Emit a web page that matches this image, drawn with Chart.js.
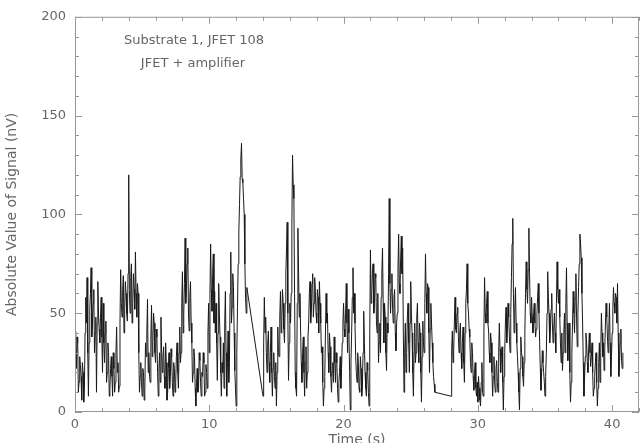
<!DOCTYPE html>
<html>
<head>
<meta charset="utf-8">
<script src="https://cdn.jsdelivr.net/npm/chart.js@4.4.0/dist/chart.umd.min.js"></script>
<style>
    body { margin: 0; background: #fff; }
    canvas { display: block; }
</style>
</head>
<body>
<canvas id="signal" width="644" height="443"></canvas>
<script>
// three acquisition runs, sampled every 0.05 s (values in nV)
const sampleStep = 0.05
const runStarts = [0, 14.0, 28.0]

const run1 = [
    41, 30, 22, 38, 35, 10, 15, 28, 24, 18, 6, 25, 20, 5, 12, 40, 58, 45, 68, 30,
    8, 35, 52, 60, 73, 38, 45, 55, 62, 30, 40, 48, 10, 45, 66, 50, 42, 35, 48, 58,
    38, 20, 55, 35, 25, 40, 46, 15, 20, 35, 30, 8, 12, 22, 28, 18, 8, 30, 22, 10,
    15, 30, 43, 20, 25, 10, 13, 45, 72, 55, 48, 62, 69, 40, 52, 66, 60, 50, 46, 70,
    120, 62, 50, 68, 75, 45, 55, 70, 62, 52, 81, 60, 48, 65, 60, 30, 10, 18, 25, 15,
    8, 22, 20, 6, 12, 35, 28, 40, 57, 20, 30, 18, 15, 38, 54, 28, 35, 50, 45, 30,
    25, 42, 38, 20, 8, 22, 30, 15, 48, 30, 20, 28, 33, 18, 12, 35, 25, 6, 10, 22,
    30, 12, 18, 32, 28, 15, 8, 25, 22, 10, 15, 28, 35, 20, 12, 30, 43, 25, 30, 55,
    71, 40, 50, 65, 88, 55, 62, 75, 83, 50, 41, 58, 66, 45, 35, 15, 20, 32, 28, 12,
    3, 15, 22, 10, 12, 30, 26, 15, 8, 20, 18, 30, 25, 8, 10, 24, 20, 12, 40, 55,
    30, 60, 85, 62, 51, 70, 80, 45, 61, 40, 55, 35, 16, 40, 65, 50, 38, 20, 8, 25,
    20, 35, 12, 45, 61, 30, 8, 25, 41, 15, 25, 60, 81, 45, 53, 70, 63, 40, 21, 12,
    3, 30, 53, 75, 91, 105, 119, 128, 136, 118, 116, 108, 100, 75, 58, 50, 63
]

const run2 = [
    8, 35, 58, 40, 48, 30, 20, 35, 41, 25, 15, 30, 43, 20, 8, 22, 30, 18, 12, 25,
    3, 20, 43, 30, 28, 48, 61, 40, 45, 62, 55, 42, 35, 55, 70, 82, 96, 50, 16, 35,
    55, 45, 60, 95, 130, 115, 108, 60, 20, 12, 8, 55, 93, 70, 48, 60, 41, 25, 15, 30,
    38, 20, 8, 25, 33, 12, 20, 38, 45, 60, 66, 45, 50, 65, 70, 48, 55, 68, 61, 50,
    45, 62, 58, 40, 66, 55, 45, 30, 33, 15, 3, 12, 18, 40, 60, 45, 50, 30, 20, 40,
    33, 18, 10, 20, 25, 15, 38, 25, 15, 30, 25, 12, 5, 15, 20, 28, 12, 22, 35, 45,
    55, 42, 38, 50, 65, 45, 30, 52, 40, 20, 1, 25, 40, 58, 73, 50, 60, 45, 28, 20,
    15, 30, 25, 12, 10, 28, 22, 8, 12, 30, 51, 35, 20, 12, 8, 25, 21, 10, 3, 40,
    82, 55, 60, 72, 75, 50, 55, 70, 68, 45, 40, 60, 25, 35, 45, 30, 58, 70, 83, 55,
    35, 55, 48, 30, 21, 45, 40, 70, 108, 65, 50, 62, 70, 52, 45, 58, 62, 40, 31, 45,
    50, 72, 90, 65, 60, 78, 89, 70, 83, 40, 10, 30, 45, 20, 30, 48, 55, 35, 20, 45,
    66, 50, 40, 20, 8, 30, 45, 25, 30, 48, 55, 35, 25, 45, 40, 20, 5, 28, 46, 35,
    30, 55, 80, 60, 50, 65, 63, 40, 20, 42, 55, 45, 35, 25, 18, 14, 10
]

const run3 = [
    8, 31, 41, 25, 31, 45, 58, 42, 40, 50, 53, 38, 30, 40, 45, 30, 22, 35, 43, 25,
    15, 40, 55, 62, 75, 55, 50, 42, 38, 25, 20, 35, 30, 18, 11, 20, 25, 12, 8, 15,
    5, 18, 12, 6, 3, 15, 25, 10, 8, 40, 68, 50, 45, 55, 61, 45, 41, 30, 25, 40,
    35, 20, 8, 18, 28, 15, 10, 22, 26, 15, 10, 30, 45, 32, 20, 28, 33, 15, 1, 18,
    30, 45, 53, 35, 41, 55, 48, 38, 30, 50, 68, 85, 98, 60, 40, 52, 63, 45, 35, 28,
    20, 10, 1, 22, 38, 30, 28, 18, 13, 25, 40, 60, 76, 62, 55, 72, 93, 70, 50, 45,
    58, 48, 40, 50, 55, 45, 38, 42, 50, 58, 65, 50, 35, 22, 11, 20, 31, 25, 20, 15,
    8, 18, 30, 50, 71, 58, 50, 35, 41, 52, 60, 45, 35, 42, 50, 40, 30, 55, 76, 62,
    55, 62, 48, 35, 25, 40, 21, 30, 40, 50, 30, 55, 73, 45, 26, 38, 45, 20, 5, 15,
    30, 45, 61, 50, 40, 58, 70, 48, 33, 50, 63, 75, 90, 85, 78, 60, 45, 25, 8, 18,
    28, 40, 35, 25, 20, 32, 40, 30, 23, 28, 35, 20, 8, 12, 18, 25, 30, 15, 3, 12,
    25, 35, 15, 30, 50, 40, 28, 35, 21, 32, 45, 55, 48, 38, 30, 42, 55, 35, 18, 28,
    40, 52, 63, 55, 50, 60, 58, 45, 65, 40, 18, 25, 35, 42, 26, 22, 30
]

const xTickLabels = [0, 10, 20, 30, 40]
const yTickLabels = [0, 50, 100, 150, 200]
const noteLines = ['Substrate 1, JFET 108', 'JFET + amplifier']

const fontFamily = '"DejaVu Sans", "Liberation Sans", sans-serif'
const textGrey = '#666'
const frameGrey = '#999'

function buildPoints(){
    let points = []
    ;[run1, run2, run3].forEach((run, r)=>{
        run.forEach((v, i)=>{
            points.push({x: runStarts[r] + i*sampleStep, y: v})
        })
    })
    return points
}

// box round the plot with inward ticks on every side, plus the note
const frameTicks = {
    id: 'frameTicks',
    afterDatasetsDraw(chart){
        const {ctx, chartArea: a, scales: {x, y}} = chart
        ctx.save()
        ctx.strokeStyle = frameGrey
        ctx.lineWidth = 1
        ctx.strokeRect(a.left + 0.5, a.top + 0.5, a.right - a.left - 1, a.bottom - a.top - 1)
        ctx.beginPath()
        for (let v = 0; v <= 42; v += 2){
            const px = Math.round(x.getPixelForValue(v)) + 0.5
            const len = v % 10 === 0 ? 7 : 4
            ctx.moveTo(px, a.bottom); ctx.lineTo(px, a.bottom - len)
            ctx.moveTo(px, a.top); ctx.lineTo(px, a.top + len)
        }
        for (let v = 0; v <= 200; v += 10){
            const py = Math.round(y.getPixelForValue(v)) + 0.5
            const len = v % 50 === 0 ? 7 : 4
            ctx.moveTo(a.left, py); ctx.lineTo(a.left + len, py)
            ctx.moveTo(a.right, py); ctx.lineTo(a.right - len, py)
        }
        ctx.stroke()

        ctx.fillStyle = textGrey
        ctx.font = '13px ' + fontFamily
        ctx.textAlign = 'center'
        ctx.textBaseline = 'middle'
        ctx.fillText(noteLines[0], a.left + 119, a.top + 24)
        ctx.fillText(noteLines[1], a.left + 118, a.top + 47)
        ctx.restore()
    }
}

const config = {
    type: 'line',
    data: {
        datasets: [{
            label: 'signal',
            data: buildPoints(),
            borderColor: '#1a1a1a',
            borderWidth: 1,
            pointRadius: 0,
            tension: 0
        }]
    },
    options: {
        responsive: false,
        animation: false,
        layout: {padding: {top: 11, right: 1, left: 0, bottom: 0}},
        plugins: {
            legend: {display: false},
            tooltip: {enabled: false}
        },
        scales: {
            x: {
                type: 'linear',
                min: 0,
                max: 42,
                afterFit(scale){ scale.height = 31 },
                grid: {display: false, drawTicks: false},
                border: {display: false},
                ticks: {
                    stepSize: 10,
                    padding: 5,
                    maxRotation: 0,
                    color: textGrey,
                    font: {family: fontFamily, size: 13},
                    callback: v => xTickLabels.includes(v) ? String(v) : ''
                },
                title: {
                    display: true,
                    text: 'Time (s)',
                    color: textGrey,
                    font: {family: fontFamily, size: 14},
                    padding: {top: 0, bottom: -6}
                }
            },
            y: {
                min: 0,
                max: 200,
                afterFit(scale){ scale.width = 75 },
                grid: {display: false, drawTicks: false},
                border: {display: false},
                ticks: {
                    stepSize: 50,
                    padding: 9,
                    color: textGrey,
                    font: {family: fontFamily, size: 13},
                    callback: v => yTickLabels.includes(v) ? String(v) : ''
                },
                title: {
                    display: true,
                    text: 'Absolute Value of Signal (nV)',
                    color: textGrey,
                    font: {family: fontFamily, size: 14},
                    padding: {top: 4, bottom: 0}
                }
            }
        }
    },
    plugins: [frameTicks]
}

const chart = new Chart(document.getElementById('signal'), config)
</script>
</body>
</html>
